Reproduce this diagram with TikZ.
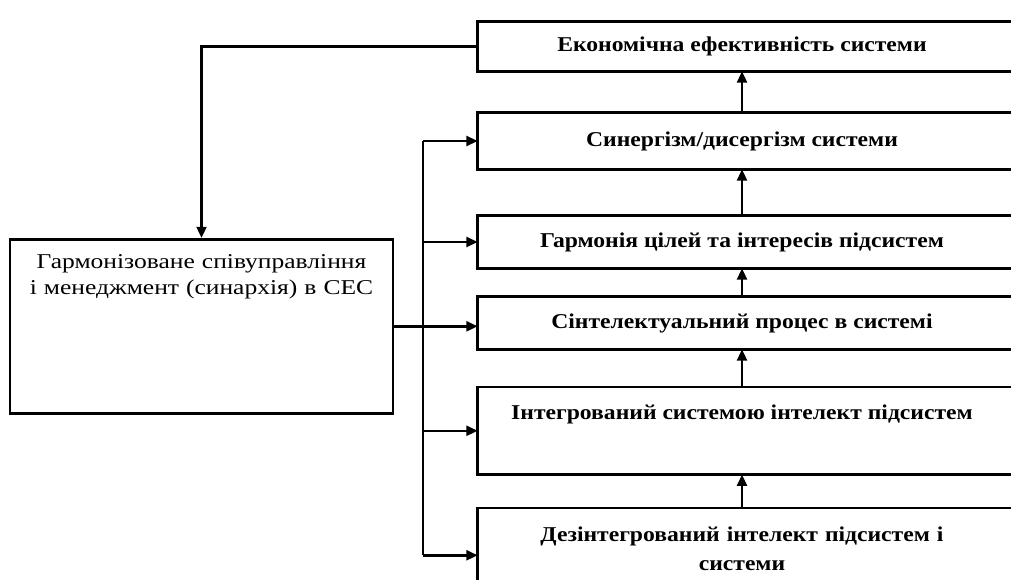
\documentclass[tikz,border=0pt]{standalone}
\usepackage{fontspec}
\setmainfont[FakeStretch=1.21]{Liberation Serif}
\newfontfamily\blokfont[FakeStretch=1.12]{Liberation Serif}
\usetikzlibrary{arrows.meta}

\begin{document}
\begin{tikzpicture}[x=0.025cm, y=-0.025cm, ->, >={Triangle[length=8pt, width=7pt]}, line width=1.8pt,
    blok/.style={inner sep=0pt, minimum width=13.15cm, align=center, font=\blokfont\fontsize{15}{21}\selectfont\bfseries},
    main/.style={draw, inner sep=0pt, text width=9.575cm, align=center, font=\fontsize{15}{18.4}\selectfont}]

    \useasboundingbox (0,0) rectangle (1011,579);

    \node[main, anchor=north, text height=0.725cm, text depth=3.625cm] (G) at (201.5,238) {Гармонізоване співуправління\\ і менеджмент (синархія) в СЕС};

    \node[blok, minimum height=1.175cm] (eco) at (742,46.5) {Економічна ефективність системи};
    \node[blok, minimum height=1.35cm] (syn) at (742,141) {Синергізм/дисергізм системи};
    \node[blok, minimum height=1.25cm] (harm) at (742,242) {Гармонія цілей та інтересів підсистем};
    \node[blok, minimum height=1.25cm] (sint) at (742,323) {Сінтелектуальний процес в системі};
    \node[blok, anchor=north, text height=0.775cm, text depth=1.35cm] (integ) at (742,387) {Інтегрований системою інтелект підсистем};
    \node[blok, anchor=north, text width=13.15cm, text height=0.8cm, text depth=1.5cm] (dez) at (742,508) {Дезінтегрований інтелект підсистем і\\ системи};

    % boxes open to the right
    \foreach \n in {eco, syn, harm, sint, integ, dez}
        \draw[-] ([xshift=1cm]\n.north east) -- (\n.north west) -- (\n.south west) -- ([xshift=1cm]\n.south east);

    \coordinate (T) at (423,0);
    \draw[-] (T |- syn.west) -- (T |- dez.west);
    \draw (eco.west) -| (G.north);
\path
        (G.east) edge (G.east -| sint.west)
        (T |- syn.west) edge (syn.west)
        (T |- harm.west) edge (harm.west)
        (T |- integ.west) edge (integ.west)
        (T |- dez.west) edge (dez.west)
        (syn) edge (eco)
        (harm) edge (syn)
        (sint) edge (harm)
        (integ) edge (sint)
        (dez) edge (integ)
;
\end{tikzpicture}
\end{document}
